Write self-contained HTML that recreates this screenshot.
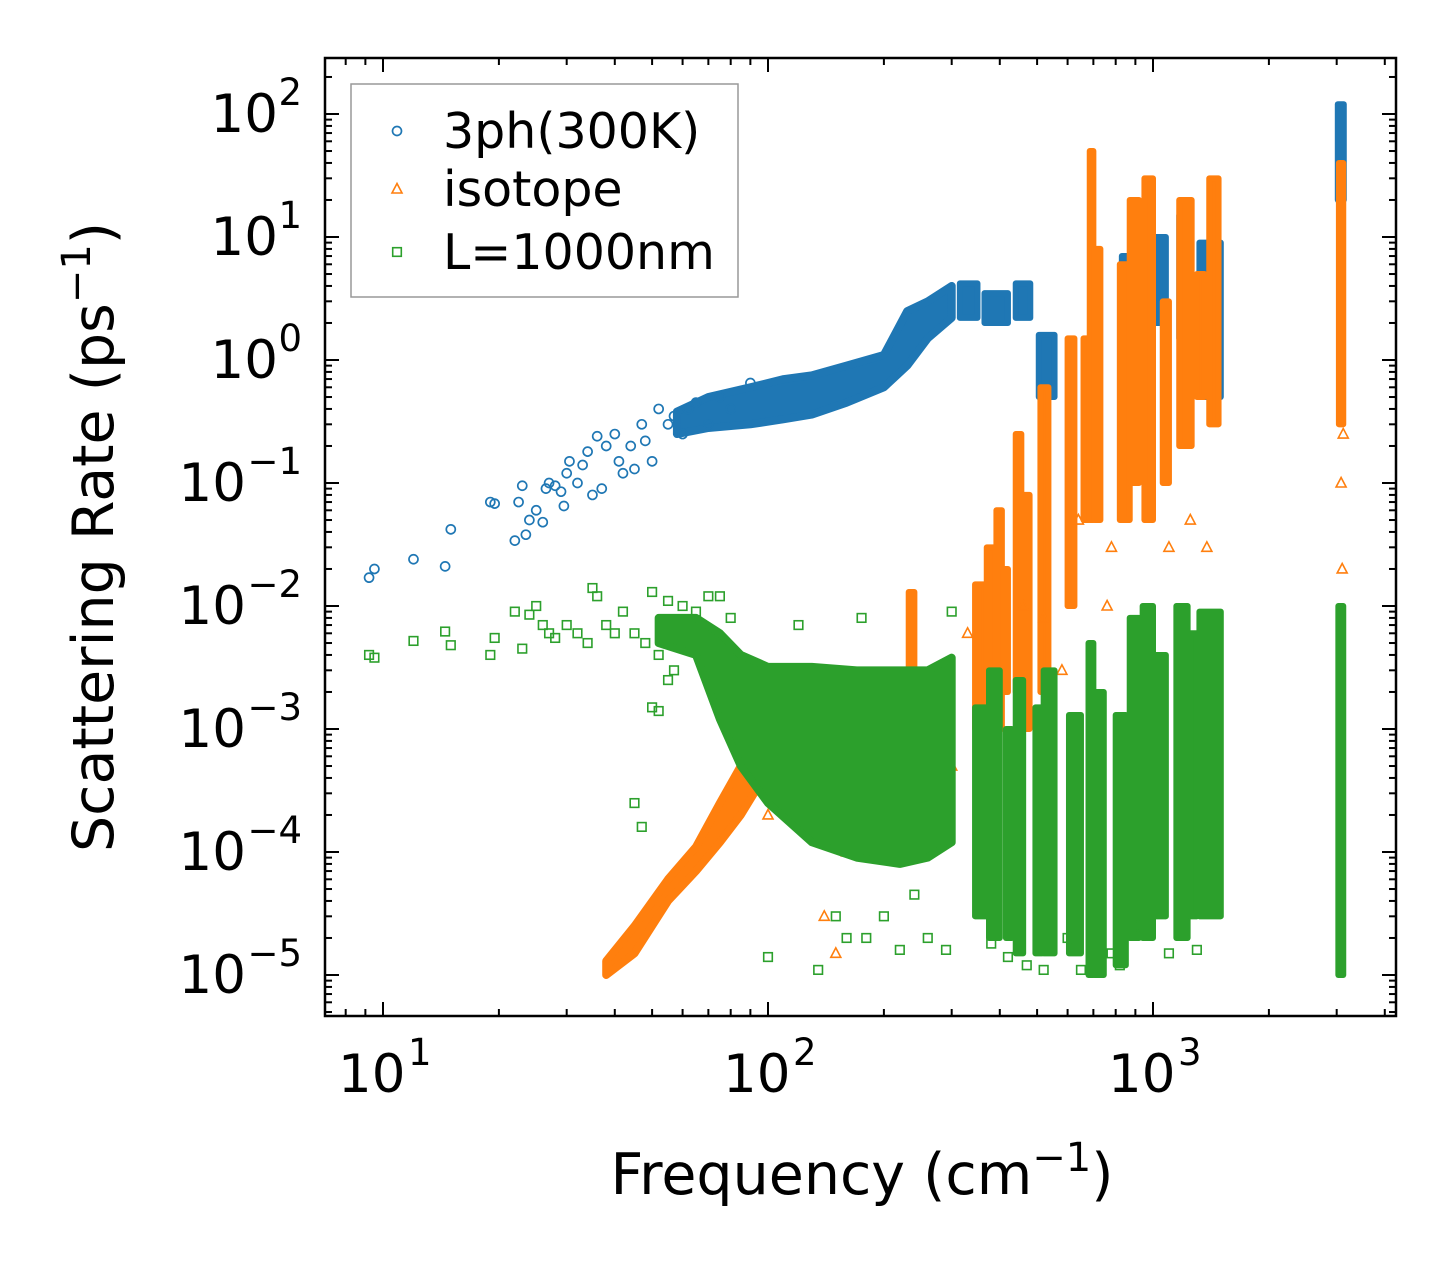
<!DOCTYPE html>
<html><head><meta charset="utf-8"><style>
body{margin:0;background:#fff}
svg{display:block}
text{font-family:"DejaVu Sans","Liberation Sans",sans-serif;fill:#000}
</style></head><body>
<svg id="chart" width="1455" height="1265" viewBox="0 0 1455 1265">
<rect x="0" y="0" width="1455" height="1265" fill="#fff"/>
<g id="marks"></g>
<g id="axes"></g>
</svg>
<script>
// ---- data ----
const blueFreq=[9.2,9.5,12,14.5,15,19,19.5,22,22.5,23,23.5,24,25,26,26.5,27,28,29,29.5,30,30.5,32,33,34,35,36,37,38,40,41,42,44,45,47,48,50,52,55,57,60,62,65,70,75,80,90];
const blueRate=[0.017,0.02,0.024,0.021,0.042,0.07,0.068,0.034,0.07,0.095,0.038,0.05,0.06,0.048,0.09,0.1,0.095,0.085,0.065,0.12,0.15,0.1,0.14,0.18,0.08,0.24,0.09,0.2,0.25,0.15,0.12,0.2,0.13,0.3,0.22,0.15,0.4,0.3,0.35,0.25,0.4,0.45,0.3,0.5,0.4,0.65];
const blueBandFreq=[58,70,90,110,130,160,200,230,260,300];
const blueBandLo=[0.25,0.28,0.3,0.33,0.36,0.45,0.6,0.9,1.5,2.2];
const blueBandHi=[0.38,0.5,0.6,0.7,0.75,0.9,1.1,2.5,3,4];
// clusters: freq lo, freq hi, rate lo, rate hi
const blueClusters=[[315,350,2.2,4.2],[365,420,2,3.5],[440,480,2.2,4.2],[505,555,0.5,1.6],[670,715,0.25,1.0],[830,1000,0.4,7],[1000,1080,2,10],[1170,1240,1.5,15],[1320,1500,0.5,9],[3020,3130,20,120]];

const orangeBandFreq=[38,45,55,65,75,85,92];
const orangeBandLo=[1e-5,1.5e-5,4e-5,7e-5,1.2e-4,2e-4,3e-4];
const orangeBandHi=[1.3e-5,2.5e-5,6e-5,1.1e-4,2.5e-4,5e-4,8e-4];
const orangeClusters=[[232,240,2.5e-3,1.3e-2],[345,365,1e-3,1.5e-2],[370,390,1.5e-3,3e-2],[392,405,1e-3,6e-2],[410,420,2e-3,2e-2],[440,455,2e-3,0.25],[462,478,1e-3,0.08],[510,535,2e-3,0.6],[600,625,1e-2,1.5],[660,680,0.05,1.5],[685,700,0.05,50],[705,730,0.05,8],[820,870,0.05,6],[870,920,0.1,20],[950,1000,0.05,30],[1060,1100,0.1,3],[1170,1260,0.2,20],[1300,1360,0.5,5],[1400,1480,0.3,30],[3040,3120,0.3,40]];
const orangeFreq=[100,120,140,150,160,180,200,220,260,280,300,330,460,520,580,640,760,780,1100,1250,1380,3100,3080,3120];
const orangeRate=[2e-4,5e-4,3e-5,1.5e-5,1e-4,4e-4,2e-4,6e-4,3e-4,1e-3,5e-4,6e-3,1e-2,8e-3,3e-3,5e-2,1e-2,3e-2,0.03,0.05,0.03,0.02,0.1,0.25];

const greenFreq=[9.2,9.5,12,14.5,15,19,19.5,22,23,24,25,26,27,28,30,32,34,35,36,38,40,42,45,48,50,52,55,57,60,65,70,75,80,45,47,50,52,55,100,120,135,150,160,175,180,200,220,240,260,290,300,380,420,470,520,600,650,780,820,900,1100,1300];
const greenRate=[4e-3,3.8e-3,5.2e-3,6.2e-3,4.8e-3,4e-3,5.5e-3,9e-3,4.5e-3,8.5e-3,1e-2,7e-3,6e-3,5.5e-3,7e-3,6e-3,5e-3,1.4e-2,1.2e-2,7e-3,6e-3,9e-3,6e-3,5e-3,1.3e-2,4e-3,1.1e-2,3e-3,1e-2,9e-3,1.2e-2,1.2e-2,8e-3,2.5e-4,1.6e-4,1.5e-3,1.4e-3,2.5e-3,1.4e-5,7e-3,1.1e-5,3e-5,2e-5,8e-3,2e-5,3e-5,1.6e-5,4.5e-5,2e-5,1.6e-5,9e-3,1.8e-5,1.4e-5,1.2e-5,1.1e-5,2e-5,1.1e-5,1.5e-5,1.2e-5,2.5e-5,1.5e-5,1.6e-5];
const greenBandFreq=[52,65,75,85,100,130,170,220,260,300];
const greenBandLo=[5e-3,4e-3,1.2e-3,5e-4,2.5e-4,1.2e-4,9e-5,8e-5,9e-5,1.2e-4];
const greenBandHi=[8e-3,8e-3,6e-3,4e-3,3.2e-3,3.2e-3,3e-3,3e-3,3e-3,3.8e-3];
const greenClusters=[[345,370,3e-5,1.5e-3],[375,400,2e-5,3e-3],[415,430,2e-5,1e-3],[440,460,1.5e-5,2.5e-3],[495,515,1.5e-5,1.5e-3],[520,555,1.5e-5,3e-3],[605,650,1.5e-5,1.3e-3],[680,700,1e-5,5e-3],[705,745,1e-5,2e-3],[800,850,1.2e-5,1.3e-3],[870,920,2e-5,8e-3],[940,1000,2e-5,1e-2],[1010,1080,3e-5,4e-3],[1150,1230,2e-5,1e-2],[1250,1300,3e-5,6e-3],[1320,1500,3e-5,9e-3],[3030,3120,1e-5,1e-2]];

const xTickVals=[10,100,1000];
const xTickExp=["1","2","3"];
const yTickVals=[100,10,1,0.1,0.01,1e-3,1e-4,1e-5];
const yTickExp=["2","1","0","\u22121","\u22122","\u22123","\u22124","\u22125"];

// ---- axis functions ----
const L=325,R=1396,T=58,B=1016;
function X(f){return 383+385*Math.log10(f/10);}
function Y(r){return 360-123*Math.log10(r);}
const NS="http://www.w3.org/2000/svg";
const marks=document.getElementById('marks'), axes=document.getElementById('axes');
function mk(tag,attrs,parent){const e=document.createElementNS(NS,tag);for(const k in attrs)e.setAttribute(k,attrs[k]);parent.appendChild(e);return e;}
const C={blue:'#1f77b4',orange:'#ff7f0e',green:'#2ca02c'};

function marker(kind,x,y,parent){
  let e;
  if(kind==='blue'){e=mk('circle',{cx:x,cy:y,r:4.5,fill:'none',stroke:C.blue,'stroke-width':1.7},parent);}
  else if(kind==='orange'){e=mk('polygon',{points:`${x},${y-5.5} ${x-5},${y+4} ${x+5},${y+4}`,fill:'none',stroke:C.orange,'stroke-width':1.6},parent);}
  else {e=mk('rect',{x:x-4.3,y:y-4.3,width:8.6,height:8.6,fill:'none',stroke:C.green,'stroke-width':1.6},parent);}
  return e;
}
function band(kind,fr,lo,hi,name){
  let pts=[];
  for(let i=0;i<fr.length;i++)pts.push(X(fr[i])+','+Y(hi[i]));
  for(let i=fr.length-1;i>=0;i--)pts.push(X(fr[i])+','+Y(lo[i]));
  const p=mk('polygon',{points:pts.join(' '),fill:C[kind],stroke:C[kind],'stroke-width':8,'stroke-linejoin':'round'},marks);
  
  
}
function clusters(kind,arr,name){
  arr.forEach(c=>{
    const r=mk('rect',{x:X(c[0]),y:Y(c[3]),width:Math.max(3,X(c[1])-X(c[0])),height:Y(c[2])-Y(c[3]),fill:C[kind],stroke:C[kind],'stroke-width':6,'stroke-linejoin':'round'},marks);
    
    
  });
}
function points(kind,fr,rt,name){
  for(let i=0;i<fr.length;i++){
    const m=marker(kind,X(fr[i]),Y(rt[i]),marks);
    
    
  }
}
band('blue',blueBandFreq,blueBandLo,blueBandHi,'3ph-band');
clusters('blue',blueClusters,'3ph-cluster');
points('blue',blueFreq,blueRate,'3ph-point');
band('orange',orangeBandFreq,orangeBandLo,orangeBandHi,'isotope-band');
clusters('orange',orangeClusters,'isotope-cluster');
points('orange',orangeFreq,orangeRate,'isotope-point');
band('green',greenBandFreq,greenBandLo,greenBandHi,'boundary-band');
clusters('green',greenClusters,'boundary-cluster');
points('green',greenFreq,greenRate,'boundary-point');

// ---- axes ----
const frame=mk('rect',{x:L,y:T,width:R-L,height:B-T,fill:'none',stroke:'#000','stroke-width':2.5},axes);


for(let d=0;d<=3;d++){
  for(let m=1;m<10;m++){
    const v=Math.pow(10,d)*m; const x=X(v);
    if(x<L||x>R)continue;
    const len=m===1?14:7;
    mk('line',{x1:x,y1:B,x2:x,y2:B-len,stroke:'#000','stroke-width':2},axes);
    mk('line',{x1:x,y1:T,x2:x,y2:T+len,stroke:'#000','stroke-width':2},axes);
  }
}
xTickVals.forEach((v,i)=>{
  const t=mk('text',{x:X(v)-45,y:1092,'font-size':53},axes);
  t.textContent='10';
  
  
  const s=mk('text',{x:X(v)+25,y:1065,'font-size':37},axes);
  s.textContent=xTickExp[i];
});
for(let d=-6;d<=2;d++){
  for(let m=1;m<10;m++){
    const v=Math.pow(10,d)*m; const y=Y(v);
    if(y<T||y>B)continue;
    const len=m===1?14:7;
    mk('line',{x1:L,y1:y,x2:L+len,y2:y,stroke:'#000','stroke-width':2},axes);
    mk('line',{x1:R,y1:y,x2:R-len,y2:y,stroke:'#000','stroke-width':2},axes);
  }
}
yTickVals.forEach((v,i)=>{
  const y=Y(v);
  const e=mk('text',{x:302,y:y-9,'font-size':37,'text-anchor':'end'},axes);
  e.textContent=yTickExp[i];
  const t=mk('text',{x:302-(yTickExp[i].length>1?56:24),y:y+18,'font-size':53,'text-anchor':'end'},axes);
  t.textContent='10';
  
  
});
const xt=mk('text',{x:862,y:1194,'font-size':57,'text-anchor':'middle'},axes);
xt.innerHTML='Frequency (cm<tspan font-size="40" dy="-23">\u22121</tspan><tspan dy="23">)</tspan>';


const yt=mk('text',{x:0,y:0,'font-size':57,'text-anchor':'middle',transform:'translate(113,537) rotate(-90)'},axes);
yt.innerHTML='Scattering Rate (ps<tspan font-size="40" dy="-23">\u22121</tspan><tspan dy="23">)</tspan>';


const lg=mk('g',{},axes);


mk('rect',{x:351,y:84,width:387,height:213,fill:'#fff','fill-opacity':0.85,stroke:'#999','stroke-width':1.5},lg);
const labels=['3ph(300K)','isotope','L=1000nm'], kinds=['blue','orange','green'], ly=[131,189,252];
labels.forEach((s,i)=>{
  const m=marker(kinds[i],397,ly[i],lg);
  
  
  const t=mk('text',{x:443,y:ly[i]+17,'font-size':49},lg);
  t.textContent=s;
  
  
});
</script>
</body></html>
